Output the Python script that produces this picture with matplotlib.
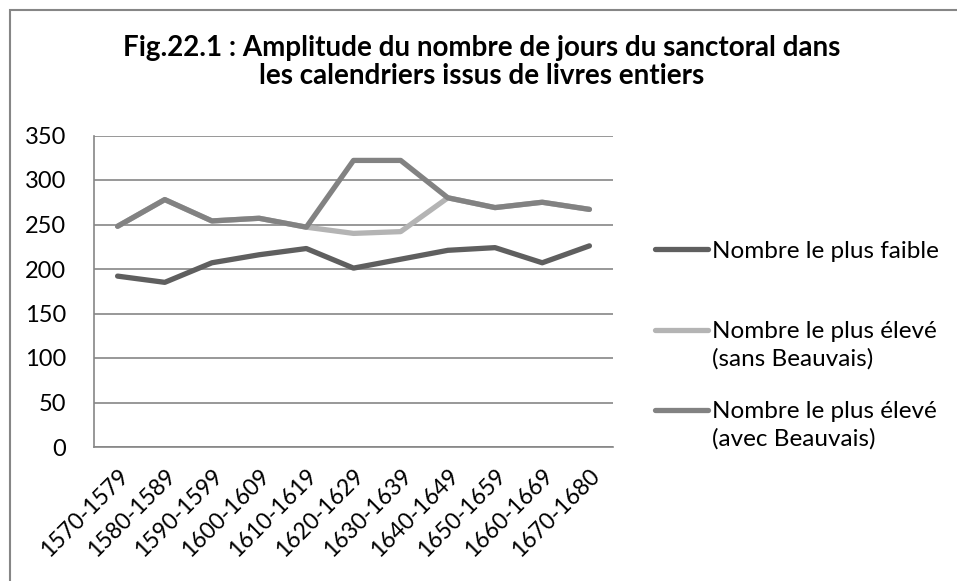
import matplotlib.pyplot as plt
from matplotlib.lines import Line2D
from matplotlib.patches import Rectangle

plt.rcParams['font.family'] = ['Lato', 'DejaVu Sans']

#decades and values
periodes = ['1570-1579', '1580-1589', '1590-1599', '1600-1609', '1610-1619', '1620-1629',
            '1630-1639', '1640-1649', '1650-1659', '1660-1669', '1670-1680']
plus_faible = [192, 185, 207, 216, 223, 201, 211, 221, 224, 207, 226]
plus_eleve_sans = [248, 278, 254, 257, 247, 240, 242, 280, 269, 275, 267]
plus_eleve_avec = [248, 278, 254, 257, 247, 322, 322, 280, 269, 275, 267]

noms = ['Nombre le plus faible', 'Nombre le plus élevé\n(sans Beauvais)', 'Nombre le plus élevé\n(avec Beauvais)']
couleurs = ['#5f5f5f', '#b4b4b4', '#828282']

W, H = 957, 581
fig = plt.figure(figsize=(W / 100, H / 100), dpi=100)
ax = fig.add_axes([94 / W, 1 - 447 / H, (613 - 94) / W, (447 - 135.5) / H])

x = range(len(periodes))
for y, c in zip([plus_faible, plus_eleve_sans, plus_eleve_avec], couleurs):
    ax.plot(x, y, color=c, lw=3.8, solid_capstyle='round', solid_joinstyle='round', zorder=3)

ax.set_xlim(-0.5, len(periodes) - 0.5)
ax.set_ylim(0, 350)
ax.set_yticks(range(0, 351, 50))
ax.yaxis.grid(True, color='#868686', lw=1.2)
ax.set_axisbelow(True)
for s in ['top', 'right']:
    ax.spines[s].set_visible(False)
for s in ['left', 'bottom']:
    ax.spines[s].set_color('#868686')
    ax.spines[s].set_linewidth(1.2)
ax.tick_params(length=0)
ax.tick_params(axis='y', labelsize=17, pad=20)
ax.set_xticks(list(x))
ax.set_xticklabels(periodes, rotation=45, ha='right', rotation_mode='anchor', fontsize=16.5)
ax.tick_params(axis='x', pad=13)

fig.text(0.503, 1 - 62 / H, 'Fig.22.1 : Amplitude du nombre de jours du sanctoral dans\nles calendriers issus de livres entiers',
         ha='center', va='center', fontsize=20, fontweight='bold', linespacing=1.05)

# legend, handle at first text line
leg_y = [249, 330, 410]
for yy, nom, c in zip(leg_y, noms, couleurs):
    fig.add_artist(Line2D([655 / W, 708 / W], [1 - yy / H] * 2, color=c, lw=3.8, solid_capstyle='round'))
    for i, ligne in enumerate(nom.split('\n')):
        fig.text(712 / W, 1 - (yy + 2 + i * 27) / H, ligne, ha='left', va='center', fontsize=17.5)

fig.add_artist(Rectangle((10 / W, -0.1), 1.2, 1 - 10 / H + 0.1, transform=fig.transFigure,
                         fill=False, edgecolor='#868686', lw=1.5))

fig.savefig('out.png', dpi=100)
